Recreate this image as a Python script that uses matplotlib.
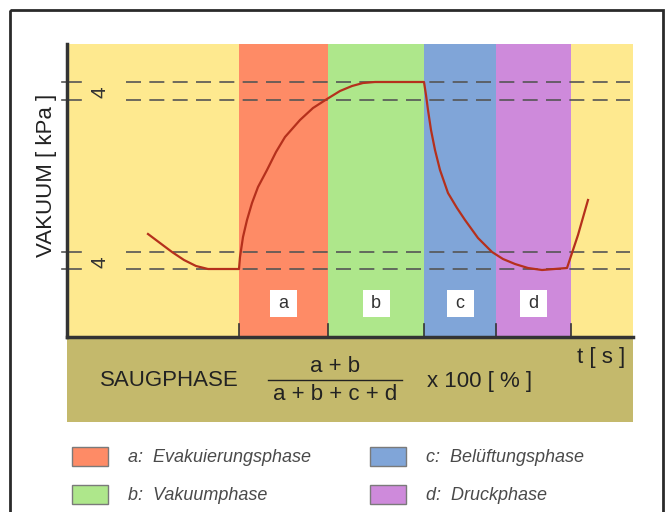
import numpy as np
import matplotlib.pyplot as plt
from matplotlib.patches import Rectangle

plt.rcParams['font.family'] = ['Liberation Sans', 'DejaVu Sans']
plt.rcParams['lines.scale_dashes'] = False

# phase boundaries along the time axis (drawing units)
phase_edges = [67, 239, 328, 424, 496, 571, 633]
phase_names = ["", "a", "b", "c", "d", ""]
phase_labels = ["a: Evakuierungsphase", "b: Vakuumphase",
                "c: Belüftungsphase", "d: Druckphase"]

# vacuum reference levels (upper pair / lower pair)
levels = [82, 100, 252, 269]
level_text = ["4", "4"]

# vacuum curve
curve_t = [148, 160, 172, 184, 196, 208, 239,
           240, 243, 247, 252, 258, 267, 276, 285, 300, 313, 327, 340, 352, 363, 375, 424,
           426, 428, 431, 435, 440, 448, 457, 465, 478, 492, 503, 515, 528, 542, 567,
           578, 588]
curve_v = [234, 243, 252, 260, 266, 269, 269,
           257, 237, 220, 203, 187, 170, 152, 137, 120, 108, 99, 91, 86, 83, 82, 82,
           95, 110, 130, 150, 170, 193, 208, 220, 238, 252, 259, 264, 268, 270, 268,
           235, 200]

colors = ["#FEE98F", "#FE8B66", "#AEE78B", "#80A5D8", "#CE8ADB", "#FEE98F"]
line_col = "#333333"

fig = plt.figure(figsize=(6.7, 5.12), dpi=100)
ax = fig.add_axes([0, 0, 1, 1])
ax.set_xlim(0, 670)
ax.set_ylim(512, 0)
ax.axis("off")

# outer frame
ax.add_patch(Rectangle((10, 10), 653, 520, fill=False, ec="#2a2a2a", lw=2))

# coloured phase bands
top, base = 44, 337
for i in range(len(phase_edges) - 1):
    x0, x1 = phase_edges[i], phase_edges[i + 1]
    ax.add_patch(Rectangle((x0, top), x1 - x0, base - top, fc=colors[i], ec="none"))
    if phase_names[i]:
        xc = (x0 + x1) / 2
        ax.add_patch(Rectangle((xc - 13.5, 290), 27, 27, fc="white", ec="none"))
        ax.text(xc, 304, phase_names[i], ha="center", va="center",
                fontsize=13, color="#333333")

# olive band under the axis
ax.add_patch(Rectangle((67, base), 566, 85, fc="#C4B96C", ec="none"))

# dashed reference lines
for lv in levels:
    ax.plot([62, 81], [lv, lv], color="#555555", lw=1.2)
    ax.plot([126, 630], [lv, lv], color="#555555", lw=1.2, dashes=(10.8, 6))
for lv, txt in zip([levels[0], levels[2]], level_text):
    ax.text(100, lv + 10, txt, rotation=90, ha="center", va="center",
            fontsize=15, color="#333333")

# vacuum curve
ax.plot(curve_t, curve_v, color="#B5301C", lw=1.6, solid_joinstyle="round")

# axes lines and ticks
ax.plot([67, 67], [top, base], color=line_col, lw=2.5)
ax.plot([67, 633], [base, base], color=line_col, lw=2.5)
for x in phase_edges[1:-1]:
    ax.plot([x, x], [base, 324], color=line_col, lw=1.2)

ax.text(47, 175, "VAKUUM [ kPa ]", rotation=90, ha="center", va="center",
        fontsize=16, color="#222222")
ax.text(601, 357, "t [ s ]", ha="center", va="center", fontsize=16, color="#222222")

# duty cycle formula
ax.text(100, 381, "SAUGPHASE", ha="left", va="center", fontsize=16, color="#222222")
ax.text(335, 366, "a + b", ha="center", va="center", fontsize=16, color="#222222")
ax.plot([268, 402], [380, 380], color="#222222", lw=1)
ax.text(335, 395, "a + b + c + d", ha="center", va="center", fontsize=16, color="#222222")
ax.text(427, 382, "x 100 [ % ]", ha="left", va="center", fontsize=16, color="#222222")

# legend
leg_x = [72, 72, 370, 370]
leg_y = [447, 485, 447, 485]
leg_c = colors[1:5]
for lx, ly, lc, lab in zip(leg_x, leg_y, leg_c, phase_labels):
    ax.add_patch(Rectangle((lx, ly), 36, 19, fc=lc, ec="#7a7a7a", lw=1))
    ax.text(lx + 56, ly + 10, lab.replace(": ", ":  "), ha="left", va="center",
            fontsize=13, style="italic", color="#4a4a4a")

fig.savefig("out.png", dpi=100)
